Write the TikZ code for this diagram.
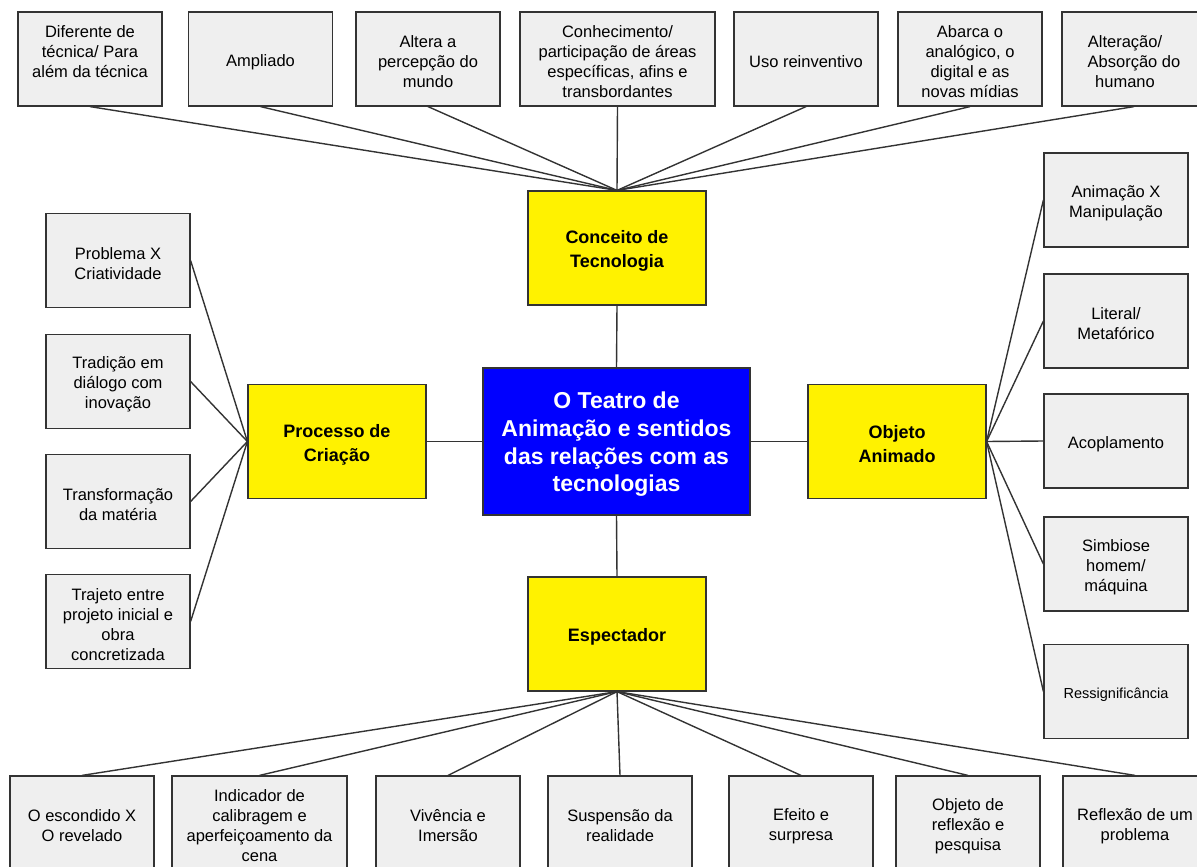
\documentclass[tikz,border=0pt]{standalone}
\usepackage{fontspec}
\setmainfont{Liberation Sans}
\definecolor{leafgray}{HTML}{EFEFEF}
\definecolor{linegray}{HTML}{333333}
\newbox\nodetextbox

\begin{document}
\begin{tikzpicture}[x=1pt, y=-1pt]
		\tikzstyle{box}
		=[rectangle, draw=linegray, line width=1.2pt, inner sep=0pt, align=center,
		execute at begin node={\setbox\nodetextbox=\hbox\bgroup},
		execute at end node={\egroup\vrule height \dimexpr\ht\nodetextbox+6pt\relax width 0pt\box\nodetextbox}]
		\tikzstyle{leaf}
		=[box, fill=leafgray, minimum width=144pt, minimum height=94pt, font=\fontsize{16.5}{20}\selectfont]
		\tikzstyle{topic}
		=[box, fill=yellow, minimum width=178pt, minimum height=114pt, font=\fontsize{18}{24}\selectfont\bfseries]
		\tikzstyle{core}
		=[box, fill=blue, text=white, minimum width=267pt, minimum height=147pt, font=\fontsize{23}{27.7}\selectfont\bfseries]
		\tikzstyle{link}
		=[draw=linegray, line width=1.4pt]
		
		\clip (0,0) rectangle (1197,867);
		
		% Central node and the four topics
		\node[core] (core) at (616.5,441.5) {O Teatro de\\Animação e sentidos\\das relações com as\\tecnologias};
		\node[topic] (conceito) at (617,248) {Conceito de\\Tecnologia};
		\node[topic] (processo) at (337,441.5) {Processo de\\Criação};
		\node[topic] (objeto) at (897,441.5) {Objeto\\Animado};
		\node[topic] (espectador) at (617,634) {Espectador};
		
		% Top row
		\node[leaf] (T-1) at (90,59) {Diferente de\\técnica/ Para\\além da técnica\\\mbox{}};
		\node[leaf] (T-2) at (260.5,59) {Ampliado};
		\node[leaf] (T-3) at (428,59) {Altera a\\percepção do\\mundo};
		\node[leaf, minimum width=195pt] (T-4) at (617.5,59) {Conhecimento/\\participação de áreas\\específicas, afins e\\transbordantes};
		\node[leaf] (T-5) at (806,59) {Uso reinventivo};
		\node[leaf] (T-6) at (970,59) {Abarca o\\analógico, o\\digital e as\\novas mídias};
		\node[leaf] (T-7) at (1134,59) {Alteração/\hspace*{18pt}\\Absorção do\hspace*{18pt}\\humano\hspace*{18pt}};
		
		% Left column
		\node[leaf] (L-1) at (118,260.5) {Problema X\\Criatividade};
		\node[leaf] (L-2) at (118,381.5) {Tradição em\\diálogo com\\inovação};
		\node[leaf] (L-3) at (118,501.5) {Transformação\\da matéria};
		\node[leaf] (L-4) at (118,621.5) {Trajeto entre\\projeto inicial e\\obra\\concretizada};
		
		% Right column
		\node[leaf] (R-1) at (1116,200) {Animação X\\Manipulação};
		\node[leaf] (R-2) at (1116,321) {Literal/\\Metafórico};
		\node[leaf] (R-3) at (1116,441) {Acoplamento};
		\node[leaf] (R-4) at (1116,564) {Simbiose\\homem/\\máquina};
		\node[leaf, font=\fontsize{14.5}{18}\selectfont] (R-5) at (1116,691.5) {Ressignificância};
		
		% Bottom row
		\node[leaf] (B-1) at (82,823) {O escondido X\\O revelado};
		\node[leaf, minimum width=175pt] (B-2) at (259.5,823) {Indicador de\\calibragem e\\aperfeiçoamento da\\cena};
		\node[leaf] (B-3) at (448,823) {Vivência e\\Imersão};
		\node[leaf] (B-4) at (620,823) {Suspensão da\\realidade};
		\node[leaf] (B-5) at (801,823) {Efeito e\\surpresa};
		\node[leaf] (B-6) at (968,823) {Objeto de\\reflexão e\\pesquisa};
		\node[leaf] (B-7) at (1135,823) {Reflexão de um\\problema};
		
		% Connect the centre with the topics
		\draw[link] (core.north) -- (conceito.south);
		\draw[link] (core.west) -- (processo.east);
		\draw[link] (core.east) -- (objeto.west);
		\draw[link] (core.south) -- (espectador.north);
		
		% Connect every leaf with its topic
		\foreach \i in {1,...,7} \draw[link] (T-\i.south) -- (conceito.north);
		\foreach \i in {1,...,4} \draw[link] (L-\i.east) -- (processo.west);
		\foreach \i in {1,...,5} \draw[link] (R-\i.west) -- (objeto.east);
		\foreach \i in {1,...,7} \draw[link] (B-\i.north) -- (espectador.south);
	\end{tikzpicture}
\end{document}
